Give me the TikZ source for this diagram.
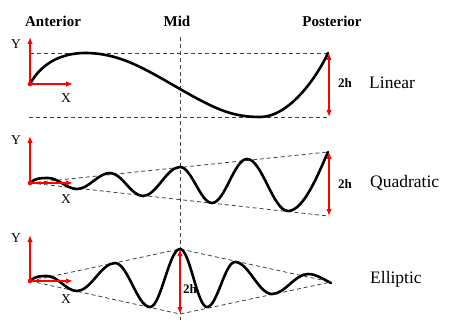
\documentclass[tikz,border=0pt]{standalone}
\usepackage{fontspec}
\setmainfont{Liberation Serif}
\usetikzlibrary{arrows.meta}
\begin{document}
\begin{tikzpicture}[x=1pt,y=-1pt,
  wave/.style={line width=2.6pt, line cap=round},
  guide/.style={dash pattern=on 4pt off 3pt, line width=0.8pt, black!75},
  axis/.style={red, line width=1.6pt, -{Latex[length=7pt,width=5.5pt]}},
  dbl/.style={red, line width=1.6pt, {Latex[length=7pt,width=5.5pt]}-{Latex[length=7pt,width=5.5pt]}},
  head/.style={font=\fontsize{15}{18}\selectfont\bfseries, anchor=base, inner sep=0pt},
  lbl/.style={font=\fontsize{17.5}{20}\selectfont, anchor=base west, inner sep=0pt},
  axlbl/.style={font=\fontsize{13.5}{16}\selectfont, anchor=base, inner sep=0pt},
  hlbl/.style={font=\fontsize{13}{15}\selectfont\bfseries, anchor=base, inner sep=0pt}]
\useasboundingbox (0,0) rectangle (449,331);

% headers
\node[head] (ant) at (53,27) {Anterior};
\node[head] (mid) at (177,27) {Mid};
\node[head] (post) at (332,27) {Posterior};

% mid line
\coordinate (mtop) at (180,37);
\coordinate (mbot) at (180,320);
\draw[guide] (mtop) -- (mbot);

% ---------- Linear ----------
\coordinate (l-tl) at (30,53);  \coordinate (l-tr) at (328,53);
\coordinate (l-bl) at (29,117); \coordinate (l-br) at (328,117);
\draw[guide] (l-tl) -- (l-tr);
\draw[guide] (l-bl) -- (l-br);
\draw[wave] (30,84) .. controls +(12,-22) and +(-22,0) .. (85,53)
  .. controls +(35,0) and +(-35,-20) .. (180,89)
  .. controls +(35,20) and +(-28,0) .. (260,117)
  .. controls +(30,0) and +(-10,22) .. (328,53);
\coordinate (o1) at (30,84); \coordinate (y1) at (30,37); \coordinate (x1) at (73,84);
\draw[axis] (o1) -- (y1);
\draw[axis] (o1) -- (x1);
\fill[red] (o1) circle (2.3pt);
\node[axlbl] (Y1) at (16,49) {Y};
\node[axlbl] (X1) at (66,103) {X};
\coordinate (a1t) at (329,53); \coordinate (a1b) at (329,117);
\draw[dbl] (a1b) -- (a1t);
\node[hlbl] (h1) at (345,88) {2h};
\node[lbl] (lin) at (369,89) {Linear};

% ---------- Quadratic ----------
\coordinate (q-o) at (30,183);
\coordinate (q-tr) at (328,152); \coordinate (q-br) at (328,216);
\draw[guide] (q-o) -- (q-tr);
\draw[guide] (q-o) -- (q-br);
\draw[wave] (30,183) .. controls +(5,-5) and +(-7,0) .. (48,178)
  .. controls +(10.5,0) and +(-10.5,0) .. (77,189)
  .. controls +(12,0) and +(-12,0) .. (110,173)
  .. controls +(12,0) and +(-12,0) .. (143,196)
  .. controls +(13.4,0) and +(-13.4,0) .. (180,167)
  .. controls +(11.6,0) and +(-11.6,0) .. (212,203)
  .. controls +(12.7,0) and +(-12.7,0) .. (247,159)
  .. controls +(14.9,0) and +(-14.9,0) .. (288,211)
  .. controls +(16,0) and +(-9,20) .. (328,152);
\coordinate (y2) at (30,136); \coordinate (x2) at (73,183);
\draw[axis] (q-o) -- (y2);
\draw[axis] (q-o) -- (x2);
\fill[red] (q-o) circle (2.3pt);
\node[axlbl] (Y2) at (16,145) {Y};
\node[axlbl] (X2) at (66,203) {X};
\coordinate (a2t) at (329,152); \coordinate (a2b) at (329,216);
\draw[dbl] (a2b) -- (a2t);
\node[hlbl] (h2) at (345,188) {2h};
\node[lbl] (quad) at (370,187) {Quadratic};

% ---------- Elliptic ----------
\coordinate (e-o) at (30,281);
\coordinate (e-t) at (180,249); \coordinate (e-b) at (180,314);
\coordinate (e-r) at (331,282);
\draw[guide] (e-o) -- (e-t) -- (e-r);
\draw[guide] (e-o) -- (e-b) -- (e-r);
\draw[wave] (30,281) .. controls +(5,-5) and +(-6,0) .. (47,276)
  .. controls +(10.9,0) and +(-10.9,0) .. (77,291)
  .. controls +(13.8,0) and +(-13.8,0) .. (115,263)
  .. controls +(12.7,0) and +(-12.7,0) .. (150,307)
  .. controls +(10.9,0) and +(-10.9,0) .. (180,249)
  .. controls +(9.8,0) and +(-9.8,0) .. (207,307)
  .. controls +(10.2,0) and +(-10.2,0) .. (235,262)
  .. controls +(13.4,0) and +(-13.4,0) .. (272,294)
  .. controls +(13.1,0) and +(-13.1,0) .. (308,274)
  .. controls +(8,0) and +(-8,-4) .. (331,283);
\coordinate (y3) at (30,235); \coordinate (x3) at (73,281);
\draw[axis] (e-o) -- (y3);
\draw[axis] (e-o) -- (x3);
\fill[red] (e-o) circle (2.3pt);
\node[axlbl] (Y3) at (16,242) {Y};
\node[axlbl] (X3) at (66,303) {X};
\draw[dbl] (e-b) -- (e-t);
\node[hlbl] (h3) at (190,293) {2h};
\node[lbl] (ell) at (370,283) {Elliptic};
\end{tikzpicture}
\end{document}
